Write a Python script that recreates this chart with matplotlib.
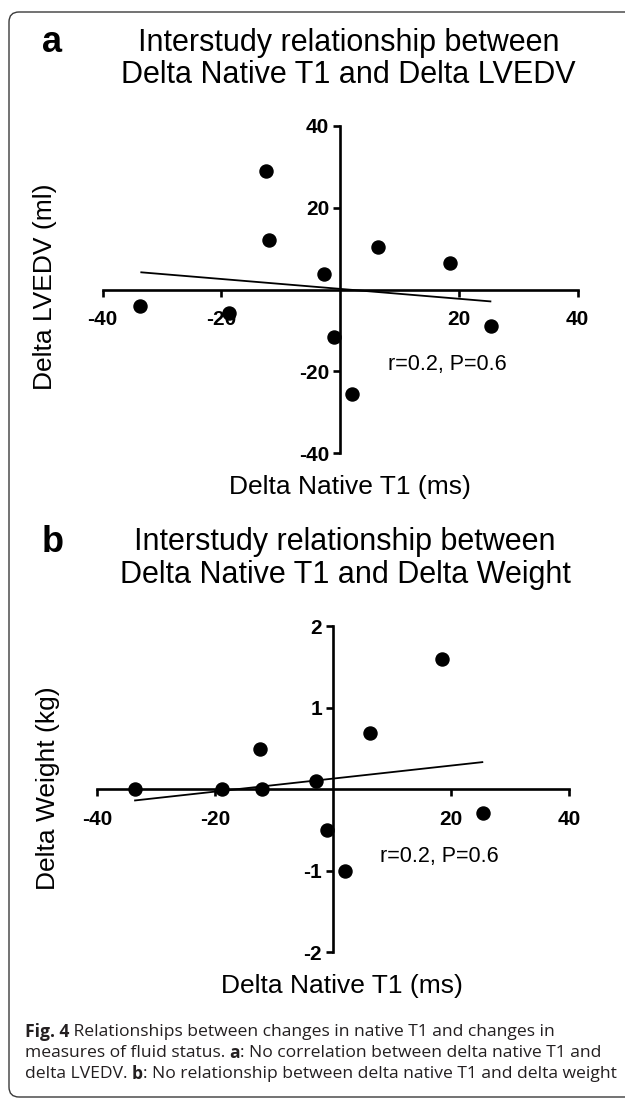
import matplotlib
matplotlib.use('Agg')
import matplotlib.pyplot as plt
from matplotlib.patches import FancyBboxPatch

# panel a: delta native T1 vs delta LVEDV
t1_a = [-12.5, -12.0, -2.8, 6.3, 18.5, -33.7, -18.7, -1.0, 25.4, 2.0]
lvedv = [29.0, 12.0, 3.7, 10.4, 6.4, -4.1, -5.8, -11.7, -8.9, -25.6]
fit_a_x = [-33.5, 25.3]
fit_a_y = [4.2, -2.9]

# panel b: delta native T1 vs delta weight
t1_b = [-33.6, -18.8, -12.1, -12.4, -2.9, 6.3, 18.5, 25.4, -1.0, 2.0]
weight = [0.0, 0.0, 0.0, 0.49, 0.10, 0.69, 1.59, -0.30, -0.50, -1.0]
fit_b_x = [-33.6, 25.3]
fit_b_y = [-0.14, 0.33]

xticks = [-40, -20, 20, 40]
yticks_a = [-40, -20, 20, 40]
yticks_b = [-2, -1, 1, 2]
stats_text = 'r=0.2, P=0.6'

W, H = 625, 1100
SANS = ['Liberation Sans', 'DejaVu Sans']
CAP = ['Open Sans', 'DejaVu Sans']


def fx(px):
  return px / W


def fy(py):
  return 1 - py / H


def setup_axes(ax, ylim, yticks):
  ax.set_xlim(-40, 40)
  ax.set_ylim(*ylim)
  for s in ['top', 'right']:
    ax.spines[s].set_visible(False)
  ax.spines['left'].set_position(('data', 0))
  ax.spines['bottom'].set_position(('data', 0))
  for s in ['left', 'bottom']:
    ax.spines[s].set_linewidth(1.9)
  ax.set_xticks(xticks)
  ax.set_yticks(yticks)
  ax.set_xticklabels([str(v) for v in xticks])
  ax.set_yticklabels([str(v) for v in yticks])
  ax.tick_params(axis='x', direction='out', length=5, width=1.9, pad=10)
  ax.tick_params(axis='y', direction='out', length=5, width=1.9, pad=3)
  for lab in ax.get_xticklabels() + ax.get_yticklabels():
    lab.set_fontfamily(SANS)
    lab.set_fontweight('bold')
    lab.set_fontsize(15)
  ax.patch.set_alpha(0)


def rich_line(fig, x_px, y_px, parts, size):
  renderer = fig.canvas.get_renderer()
  x = x_px
  for text, weight in parts:
    t = fig.text(fx(x), fy(y_px), text, family=CAP, fontsize=size,
                 fontweight=weight, color='#231f20', ha='left', va='center')
    bb = t.get_window_extent(renderer=renderer)
    x += bb.width


def main():
  plt.rcParams['axes.unicode_minus'] = False
  fig = plt.figure(figsize=(6.25, 11), dpi=100)

  # outer frame, open on the right
  border = FancyBboxPatch((0.09, 0.03), 7.0, 10.85,
                          boxstyle='round,pad=0,rounding_size=0.1',
                          transform=fig.dpi_scale_trans, fill=False,
                          edgecolor='#3a3a3a', linewidth=1.0)
  fig.patches.append(border)

  # panel a
  ax1 = fig.add_axes([0.1643, 0.5879, 0.76, 0.2978])
  setup_axes(ax1, (-40, 40), yticks_a)
  ax1.plot(t1_a, lvedv, 'o', color='black', markersize=9.4, clip_on=False)
  ax1.plot(fit_a_x, fit_a_y, color='black', linewidth=1.3)
  ax1.text(8.1, -18.4, stats_text, family=SANS, fontsize=15.5,
           ha='left', va='center')

  fig.text(fx(52), fy(43), 'a', family=SANS, fontsize=26, fontweight='bold',
           ha='center', va='center')
  fig.text(fx(349), fy(43), 'Interstudy relationship between', family=SANS,
           fontsize=22, ha='center', va='center')
  fig.text(fx(348), fy(75), 'Delta Native T1 and Delta LVEDV', family=SANS,
           fontsize=22, ha='center', va='center')
  fig.text(fx(45), fy(287), 'Delta LVEDV (ml)', family=SANS, fontsize=19,
           rotation=90, ha='center', va='center')
  fig.text(fx(350), fy(487), 'Delta Native T1 (ms)', family=SANS, fontsize=19,
           ha='center', va='center')

  # panel b
  ax2 = fig.add_axes([0.1557, 0.1345, 0.7547, 0.2964])
  setup_axes(ax2, (-2, 2), yticks_b)
  ax2.plot(t1_b, weight, 'o', color='black', markersize=9.4, clip_on=False)
  ax2.plot(fit_b_x, fit_b_y, color='black', linewidth=1.3)
  ax2.text(8.0, -0.83, stats_text, family=SANS, fontsize=15.5,
           ha='left', va='center')

  fig.text(fx(53), fy(542), 'b', family=SANS, fontsize=26, fontweight='bold',
           ha='center', va='center')
  fig.text(fx(345), fy(542), 'Interstudy relationship between', family=SANS,
           fontsize=22, ha='center', va='center')
  fig.text(fx(345), fy(575), 'Delta Native T1 and Delta Weight', family=SANS,
           fontsize=22, ha='center', va='center')
  fig.text(fx(48), fy(788), 'Delta Weight (kg)', family=SANS, fontsize=19,
           rotation=90, ha='center', va='center')
  fig.text(fx(342), fy(986), 'Delta Native T1 (ms)', family=SANS, fontsize=19,
           ha='center', va='center')

  # caption
  cap_size = 12.6
  rich_line(fig, 25, 1032, [('Fig. 4', 'bold'),
            (' Relationships between changes in native T1 and changes in', 'normal')],
            cap_size)
  rich_line(fig, 25, 1053, [('measures of fluid status. ', 'normal'), ('a', 'bold'),
            (': No correlation between delta native T1 and', 'normal')], cap_size)
  rich_line(fig, 25, 1074, [('delta LVEDV. ', 'normal'), ('b', 'bold'),
            (': No relationship between delta native T1 and delta weight', 'normal')],
            cap_size)

  fig.savefig('out.png', dpi=100)


if __name__ == '__main__':
  main()
